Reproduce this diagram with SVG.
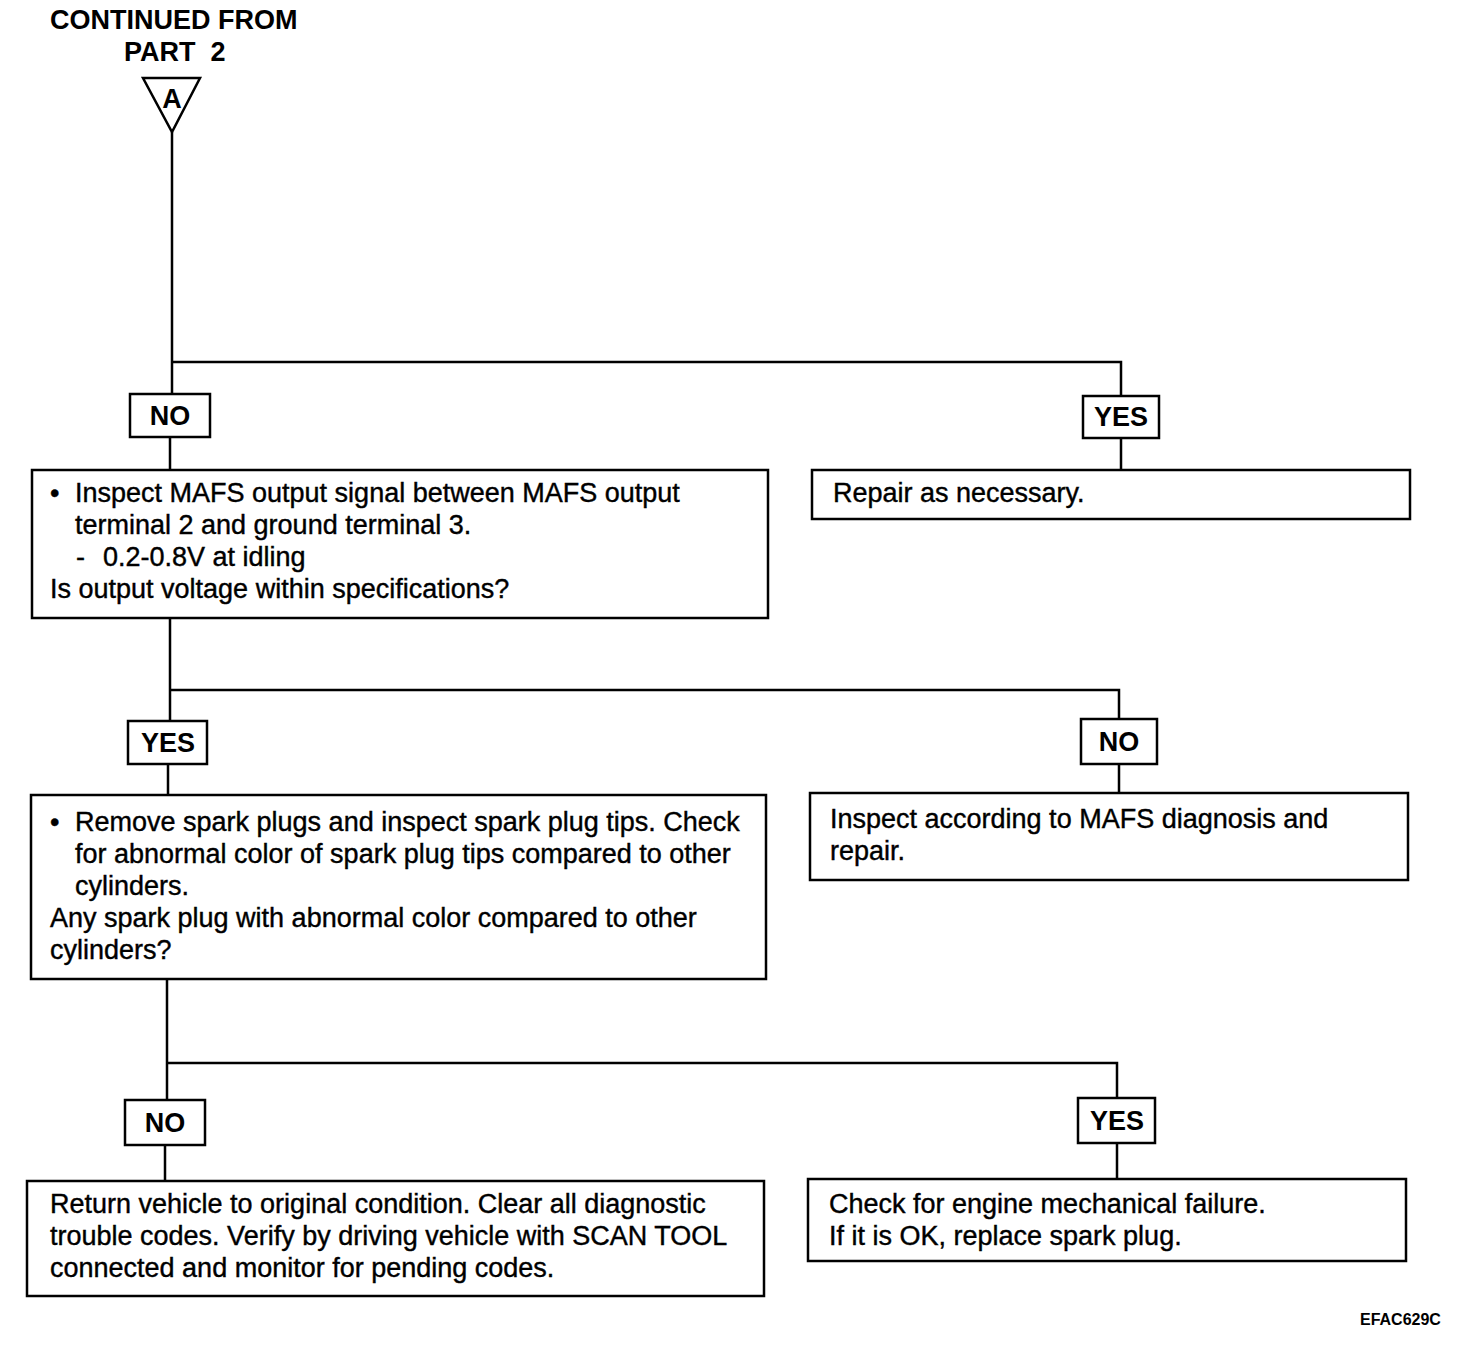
<svg xmlns="http://www.w3.org/2000/svg" width="1472" height="1356" viewBox="0 0 1472 1356">
<style>
.bx{fill:#fff;stroke:#000;stroke-width:2.5}
.ln{fill:none;stroke:#000;stroke-width:2.5}
.t{font-family:"Liberation Sans",Arial,sans-serif;font-size:27px;fill:#000;stroke:#000;stroke-width:0.4}
.lb{font-family:"Liberation Sans",Arial,sans-serif;font-size:27px;font-weight:bold;fill:#000;text-anchor:middle}
.hd{font-family:"Liberation Sans",Arial,sans-serif;font-size:27px;font-weight:bold;fill:#000}
</style>
<rect width="1472" height="1356" fill="#fff"/>
<g id="connectors">
<path class="ln" d="M172 132V394M172 362H1121V396M170 437V470M1121 438V470"/>
<path class="ln" d="M170 618V721M170 690H1119V719M168 764V795M1119 764V793"/>
<path class="ln" d="M167 979V1100M167 1063H1117V1098M165 1145V1181M1117 1143V1179"/>
</g>
<g id="start">
<text class="hd" x="50" y="29">CONTINUED FROM</text>
<text class="hd" x="124" y="61" xml:space="preserve">PART  2</text>
<polygon class="ln" points="143,78 200,78 172,132"/>
<text class="lb" x="172" y="108" font-size="24">A</text>
</g>
<g id="no1"><rect class="bx" x="130" y="394" width="80" height="43"/><text class="lb" x="170" y="425">NO</text></g>
<g id="yes1"><rect class="bx" x="1083" y="396" width="76" height="42"/><text class="lb" x="1121" y="426">YES</text></g>
<g id="box1"><rect class="bx" x="32" y="470" width="736" height="148"/>
<text class="t" x="50" y="502">•</text>
<text class="t" x="75" y="502">Inspect MAFS output signal between MAFS output</text>
<text class="t" x="75" y="534">terminal 2 and ground terminal 3.</text>
<text class="t" x="76" y="566">-</text>
<text class="t" x="103" y="566">0.2-0.8V at idling</text>
<text class="t" x="50" y="598">Is output voltage within specifications?</text>
</g>
<g id="repair1"><rect class="bx" x="812" y="470" width="598" height="49"/>
<text class="t" x="833" y="502">Repair as necessary.</text></g>
<g id="yes2"><rect class="bx" x="128" y="721" width="79" height="43"/><text class="lb" x="168" y="752">YES</text></g>
<g id="no2"><rect class="bx" x="1081" y="719" width="76" height="45"/><text class="lb" x="1119" y="751">NO</text></g>
<g id="box2"><rect class="bx" x="31" y="795" width="735" height="184"/>
<text class="t" x="50" y="831">•</text>
<text class="t" x="75" y="831">Remove spark plugs and inspect spark plug tips. Check</text>
<text class="t" x="75" y="863">for abnormal color of spark plug tips compared to other</text>
<text class="t" x="75" y="895">cylinders.</text>
<text class="t" x="50" y="927">Any spark plug with abnormal color compared to other</text>
<text class="t" x="50" y="959">cylinders?</text>
</g>
<g id="mafsdiag"><rect class="bx" x="810" y="793" width="598" height="87"/>
<text class="t" x="830" y="828">Inspect according to MAFS diagnosis and</text>
<text class="t" x="830" y="860">repair.</text></g>
<g id="no3"><rect class="bx" x="125" y="1100" width="80" height="45"/><text class="lb" x="165" y="1132">NO</text></g>
<g id="yes3"><rect class="bx" x="1078" y="1098" width="77" height="45"/><text class="lb" x="1117" y="1130">YES</text></g>
<g id="box3"><rect class="bx" x="27" y="1181" width="737" height="115"/>
<text class="t" x="50" y="1213">Return vehicle to original condition. Clear all diagnostic</text>
<text class="t" x="50" y="1245">trouble codes. Verify by driving vehicle with SCAN TOOL</text>
<text class="t" x="50" y="1277">connected and monitor for pending codes.</text></g>
<g id="mech"><rect class="bx" x="808" y="1179" width="598" height="82"/>
<text class="t" x="829" y="1213">Check for engine mechanical failure.</text>
<text class="t" x="829" y="1245">If it is OK, replace spark plug.</text></g>
<text x="1360" y="1325" font-family="Liberation Sans,Arial,sans-serif" font-size="16" font-weight="bold">EFAC629C</text>
</svg>
